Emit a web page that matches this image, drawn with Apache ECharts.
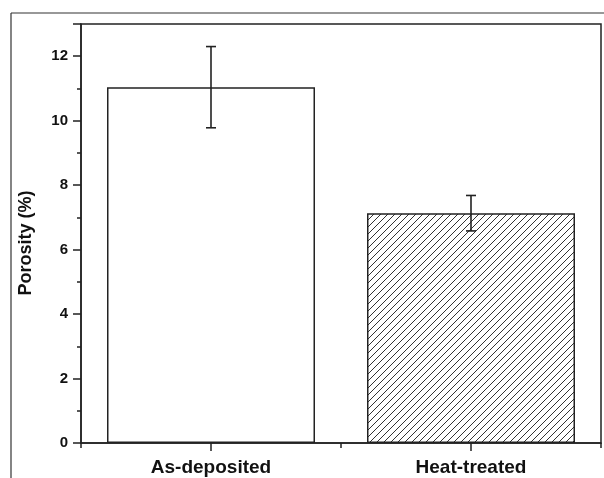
<!DOCTYPE html>
<html>
<head>
<meta charset="utf-8">
<script src="https://cdn.jsdelivr.net/npm/echarts@6/dist/echarts.min.js"></script>
<style>
html,body{margin:0;padding:0;background:#fff;}
#chart{width:604px;height:478px;}
</style>
</head>
<body>
<div id="chart"></div>
<script>
const categories = ['As-deposited', 'Heat-treated'];
const positions = [1, 2];
const porosity = [11.04, 7.13];
const errors = [1.26, 0.55];
const yTickValues = [0, 2, 4, 6, 8, 10, 12];

function hatchPattern() {
  const s = 7;
  const c = document.createElement('canvas');
  c.width = s; c.height = s;
  const g = c.getContext('2d');
  g.fillStyle = '#fff';
  g.fillRect(0, 0, s, s);
  g.strokeStyle = '#333';
  g.lineWidth = 1;
  g.beginPath();
  g.moveTo(-1, s + 1); g.lineTo(s + 1, -1);
  g.moveTo(-1, 1); g.lineTo(1, -1);
  g.moveTo(s - 1, s + 1); g.lineTo(s + 1, s - 1);
  g.stroke();
  return c;
}

const chart = echarts.init(document.getElementById('chart'), null, {renderer: 'canvas'});
const barData = positions.map((p, i) => ({
  value: [p, porosity[i]],
  itemStyle: i === 0
    ? {color: '#ffffff', borderColor: '#222', borderWidth: 1.5}
    : {color: {image: hatchPattern(), repeat: 'repeat'}, borderColor: '#222', borderWidth: 1.5}
}));
const errData = positions.map((p, i) => [p, porosity[i] - errors[i], porosity[i] + errors[i]]);

const FONT = 'Liberation Sans, Arial, sans-serif';

chart.setOption({
  animation: false,
  backgroundColor: '#fff',
  grid: {left: 81, right: 3, top: 24, bottom: 35, show: true, borderColor: '#222', borderWidth: 1.5},
  xAxis: [{
    type: 'value', min: 0.5, max: 2.5, interval: 0.5,
    axisLine: {show: true, onZero: false, lineStyle: {color: '#222', width: 1.5}},
    axisTick: {show: true, inside: false, length: 5, lineStyle: {color: '#222', width: 1.5}},
    splitLine: {show: false},
    axisLabel: {
      customValues: positions,
      formatter: v => categories[positions.indexOf(v)] || '',
      fontFamily: FONT, fontWeight: 'bold', fontSize: 19, color: '#111', margin: 15
    }
  }, {
    type: 'value', min: 0.5, max: 2.5, position: 'bottom',
    axisLine: {show: false},
    axisTick: {show: true, customValues: positions, length: 8, lineStyle: {color: '#222', width: 1.5}},
    axisLabel: {show: false},
    splitLine: {show: false}
  }],
  yAxis: {
    type: 'value', min: 0, max: 13, interval: 2,
    axisLine: {show: true, lineStyle: {color: '#222', width: 1.5}},
    axisTick: {show: true, inside: false, length: 8, lineStyle: {color: '#222', width: 1.5}},
    minorTick: {show: true, splitNumber: 2, length: 4, lineStyle: {color: '#222', width: 1.5}},
    splitLine: {show: false},
    axisLabel: {
      customValues: yTickValues,
      fontFamily: FONT, fontWeight: 'bold', fontSize: 15, color: '#111', margin: 13
    }
  },
  graphic: [
    {type: 'line', shape: {x1: 11, y1: 13, x2: 604, y2: 13}, style: {stroke: '#333', lineWidth: 1.2}},
    {type: 'line', shape: {x1: 11, y1: 13, x2: 11, y2: 478}, style: {stroke: '#333', lineWidth: 1.2}},
    {type: 'text', x: 26, y: 243, rotation: Math.PI / 2,
      style: {text: 'Porosity (%)', font: 'bold 18px ' + FONT, fill: '#111', textAlign: 'center', textVerticalAlign: 'middle'}}
  ],
  series: [{
    type: 'bar', xAxisIndex: 0, data: barData, barWidth: 208, z: 2
  }, {
    type: 'custom', xAxisIndex: 0, data: errData, z: 5,
    renderItem: function (params, api) {
      const x = api.value(0);
      const lo = api.coord([x, api.value(1)]);
      const hi = api.coord([x, api.value(2)]);
      const w = 5;
      const st = {stroke: '#222', lineWidth: 1.6};
      return {type: 'group', children: [
        {type: 'line', shape: {x1: lo[0], y1: lo[1], x2: hi[0], y2: hi[1]}, style: st},
        {type: 'line', shape: {x1: hi[0] - w, y1: hi[1], x2: hi[0] + w, y2: hi[1]}, style: st},
        {type: 'line', shape: {x1: lo[0] - w, y1: lo[1], x2: lo[0] + w, y2: lo[1]}, style: st}
      ]};
    }
  }]
});
</script>
</body>
</html>
